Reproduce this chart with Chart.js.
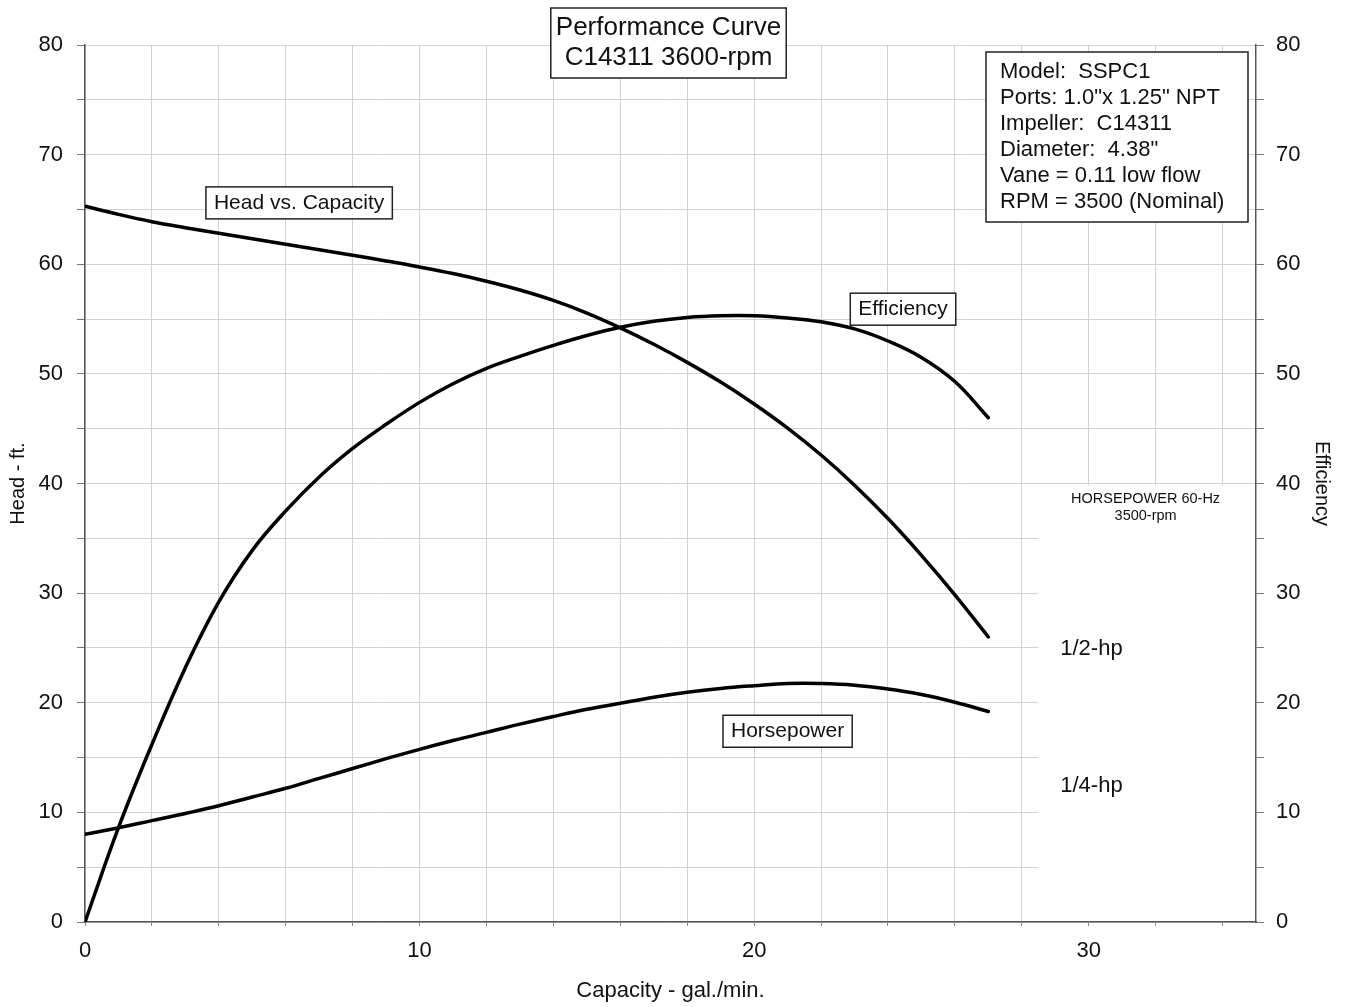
<!DOCTYPE html>
<html>
<head>
<meta charset="utf-8">
<title>Performance Curve</title>
<script src="https://cdn.jsdelivr.net/npm/chart.js@4.4.1/dist/chart.umd.min.js"></script>
<style>
  html, body { margin: 0; padding: 0; background: #fff; }
  canvas { display: block; }
</style>
</head>
<body>
<canvas id="curve" width="1348" height="1007"></canvas>
<script>
// capacity in gal./min.
const capacity = [0, 1, 2, 3, 4, 5, 6, 7, 8, 9, 10, 11, 12, 13, 14, 15, 16, 17, 18, 19, 20, 21, 22, 23, 24, 25, 26, 27];
// head in ft
const headFt = [65.3, 64.55, 63.88, 63.33, 62.82, 62.32, 61.82, 61.32, 60.82, 60.3, 59.75, 59.15, 58.45, 57.65, 56.7, 55.55, 54.2, 52.7, 51.05, 49.25, 47.25, 45.05, 42.6, 39.85, 36.8, 33.45, 29.85, 26.0];
// horsepower curve (read on the same 0-80 grid)
const horsepower = [8.0, 8.6, 9.25, 9.9, 10.6, 11.4, 12.2, 13.1, 14.0, 14.9, 15.75, 16.55, 17.3, 18.05, 18.75, 19.4, 19.95, 20.5, 20.95, 21.3, 21.55, 21.75, 21.75, 21.6, 21.25, 20.75, 20.05, 19.2];
// efficiency
const efficiency = [0, 8.6, 16.2, 23.2, 29.2, 33.9, 37.5, 40.6, 43.2, 45.4, 47.4, 49.1, 50.5, 51.6, 52.6, 53.5, 54.25, 54.8, 55.15, 55.3, 55.3, 55.1, 54.75, 54.1, 53.0, 51.5, 49.3, 46.0];

const xGrid = [0, 2, 4, 6, 8, 10, 12, 14, 16, 18, 20, 22, 24, 26, 28, 30, 32, 34];
const xLabels = [0, 10, 20, 30];

const titleLines = ['Performance Curve', 'C14311 3600-rpm'];
const infoLines = [
  'Model:  SSPC1',
  'Ports: 1.0"x 1.25" NPT',
  'Impeller:  C14311',
  'Diameter:  4.38"',
  'Vane = 0.11 low flow',
  'RPM = 3500 (Nominal)'
];

const FONT = '"Liberation Sans", Arial, sans-serif';
const pts = (xs, ys) => xs.map((v, i) => ({ x: v, y: ys[i] }));

function boxText(ctx, lines, cx, cy, size, lineH, padX, padY) {
  ctx.font = size + 'px ' + FONT;
  const w = Math.max(...lines.map(l => ctx.measureText(l).width)) + padX * 2;
  const h = lines.length * lineH + padY * 2;
  ctx.fillStyle = '#fff';
  ctx.fillRect(cx - w / 2, cy - h / 2, w, h);
  ctx.strokeStyle = '#222';
  ctx.lineWidth = 1.5;
  ctx.strokeRect(cx - w / 2, cy - h / 2, w, h);
  ctx.fillStyle = '#111';
  ctx.textAlign = 'center';
  ctx.textBaseline = 'middle';
  lines.forEach((l, i) => ctx.fillText(l, cx, cy - h / 2 + padY + lineH * (i + 0.5)));
}

const overlay = {
  id: 'overlay',
  beforeDatasetsDraw(chart) {
    // blank area behind the horsepower notes
    const { ctx, scales: { x, y } } = chart;
    const l = x.getPixelForValue(28.5), t = y.getPixelForValue(39.8);
    ctx.save();
    ctx.fillStyle = '#fff';
    ctx.fillRect(l, t, x.right - 1 - l, y.bottom - 1 - t);
    ctx.restore();
  },
  afterDatasetsDraw(chart) {
    const { ctx, chartArea: a, scales: { x, y } } = chart;
    ctx.save();
    // curve labels
    boxText(ctx, ['Head vs. Capacity'], x.getPixelForValue(6.4), y.getPixelForValue(65.6), 21, 24, 8, 4);
    boxText(ctx, ['Efficiency'], x.getPixelForValue(24.45), y.getPixelForValue(55.9), 21, 24, 8, 4);
    boxText(ctx, ['Horsepower'], x.getPixelForValue(21.0), y.getPixelForValue(17.4), 21, 24, 8, 4);
    // chart title
    boxText(ctx, titleLines, (a.left + a.right) / 2 - 2, a.top - 2, 26, 30, 5, 5);

    // info box
    ctx.font = '22px ' + FONT;
    const iw = Math.max(Math.max(...infoLines.map(l => ctx.measureText(l).width)) + 30, 262);
    const ih = infoLines.length * 26 + 14;
    const ix = a.right - 8 - iw, iy = a.top + 7;
    ctx.fillStyle = '#fff';
    ctx.fillRect(ix, iy, iw, ih);
    ctx.strokeStyle = '#222';
    ctx.lineWidth = 1.5;
    ctx.strokeRect(ix, iy, iw, ih);
    ctx.fillStyle = '#111';
    ctx.textAlign = 'left';
    ctx.textBaseline = 'middle';
    infoLines.forEach((l, i) => ctx.fillText(l, ix + 14, iy + 7 + 26 * (i + 0.5)));

    // horsepower notes
    ctx.textAlign = 'center';
    ctx.font = '14.5px ' + FONT;
    ctx.fillText('HORSEPOWER 60-Hz', x.getPixelForValue(31.7), y.getPixelForValue(38.6));
    ctx.fillText('3500-rpm', x.getPixelForValue(31.7), y.getPixelForValue(37.0));
    ctx.textAlign = 'left';
    ctx.font = '22px ' + FONT;
    ctx.fillText('1/2-hp', x.getPixelForValue(29.15), y.getPixelForValue(24.9));
    ctx.fillText('1/4-hp', x.getPixelForValue(29.15), y.getPixelForValue(12.4));
    ctx.restore();
  }
};

const line = { borderColor: '#000', borderWidth: 3.5, pointRadius: 0, fill: false, tension: 0.4, borderCapStyle: 'round', borderJoinStyle: 'round' };

new Chart(document.getElementById('curve'), {
  type: 'line',
  data: {
    datasets: [
      { ...line, label: 'Head vs. Capacity', data: pts(capacity, headFt), yAxisID: 'y' },
      { ...line, label: 'Efficiency', data: pts(capacity, efficiency), yAxisID: 'y2' },
      { ...line, label: 'Horsepower', data: pts(capacity, horsepower), yAxisID: 'y' }
    ]
  },
  options: {
    responsive: false,
    animation: false,
    devicePixelRatio: 1,
    layout: { padding: { top: 45, left: 0, right: 0, bottom: 0 } },
    plugins: { legend: { display: false }, tooltip: { enabled: false } },
    scales: {
      x: {
        type: 'linear', min: 0, max: 35,
        afterBuildTicks: s => { s.ticks = xGrid.map(v => ({ value: v })); },
        afterFit: s => { s.height = 85; },
        ticks: {
          autoSkip: false, maxRotation: 0, padding: 12, color: '#111',
          font: { family: FONT, size: 22 },
          callback: v => xLabels.includes(v) ? v : ''
        },
        grid: { color: '#d2d2d2', lineWidth: 1, tickLength: 4, tickColor: '#888' },
        border: { color: '#555', width: 1.5 },
        title: { display: true, text: 'Capacity - gal./min.', color: '#111', font: { family: FONT, size: 22 }, padding: { top: 3, bottom: 3 } }
      },
      y: {
        position: 'left', min: 0, max: 80,
        ticks: {
          stepSize: 5, padding: 14, color: '#111',
          font: { family: FONT, size: 22 },
          callback: v => v % 10 === 0 ? v : ''
        },
        afterFit: s => { s.width = 85; },
        grid: { color: '#d2d2d2', lineWidth: 1, tickLength: 8, tickColor: '#777' },
        border: { color: '#555', width: 1.5 },
        title: { display: true, text: 'Head - ft.', color: '#111', font: { family: FONT, size: 20 }, padding: { top: 6, bottom: 4 } }
      },
      y2: {
        position: 'right', min: 0, max: 80,
        ticks: {
          stepSize: 5, padding: 12, color: '#111',
          font: { family: FONT, size: 22 },
          callback: v => v % 10 === 0 ? v : ''
        },
        afterFit: s => { s.width = 92; },
        grid: { drawOnChartArea: false, tickLength: 8, color: '#777' },
        border: { color: '#555', width: 1.5 },
        title: { display: true, text: 'Efficiency', color: '#111', font: { family: FONT, size: 20 }, padding: { top: 14, bottom: 4 } }
      }
    }
  },
  plugins: [overlay]
});
</script>
</body>
</html>
